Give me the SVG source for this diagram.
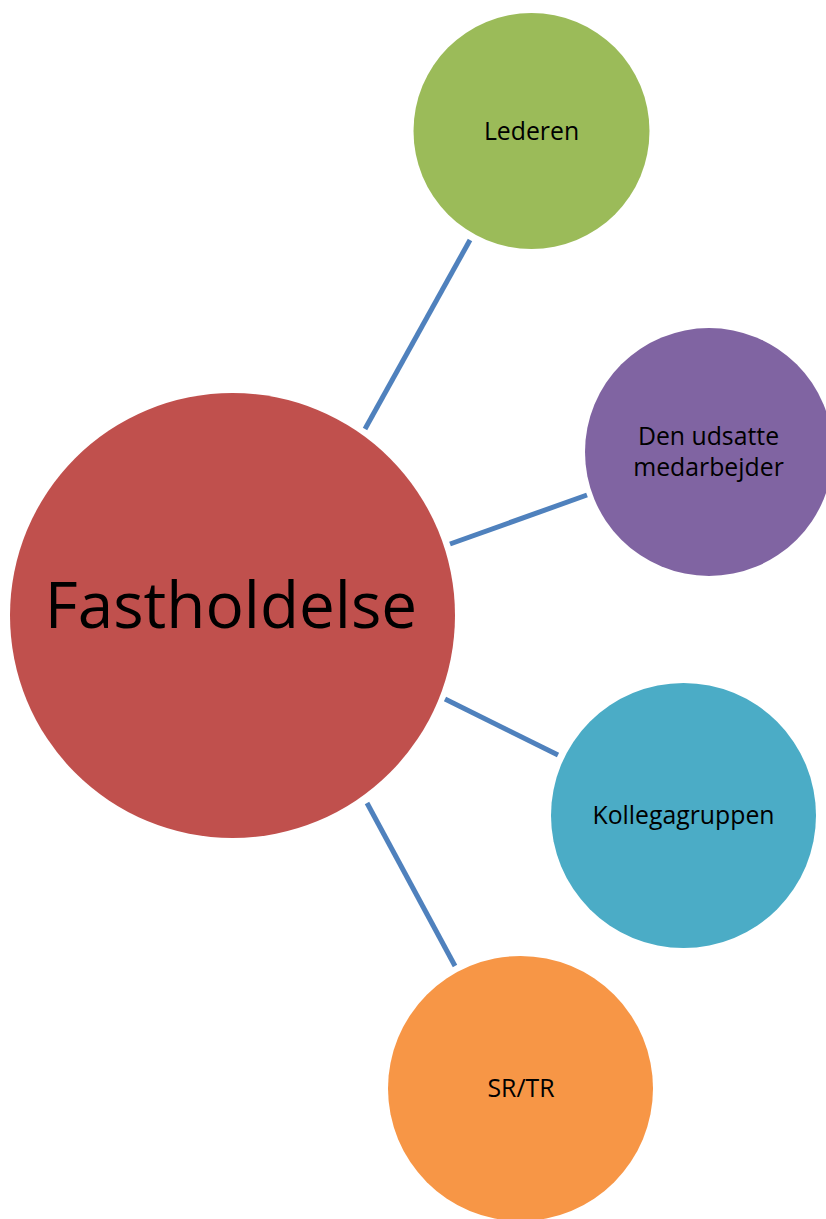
<svg xmlns="http://www.w3.org/2000/svg" width="826" height="1219" viewBox="0 0 826 1219">
<style>
.lbl{font-family:"Open Sans","Noto Sans","Liberation Sans",sans-serif;font-size:24.8px;fill:#000;text-anchor:middle}
.big{font-family:"Open Sans","Noto Sans","Liberation Sans",sans-serif;font-size:63.8px;fill:#000;text-anchor:middle}
.conn{stroke:#4F81BD;stroke-width:5;fill:none}
</style>
<rect width="826" height="1219" fill="#fff"/>
<g id="connectors">
<line class="conn" x1="365" y1="429" x2="470" y2="240"/>
<line class="conn" x1="450" y1="544" x2="587" y2="495"/>
<line class="conn" x1="445" y1="699" x2="558" y2="755"/>
<line class="conn" x1="367" y1="803" x2="455" y2="966"/>
</g>
<g id="node-fastholdelse">
<circle cx="232.5" cy="615.5" r="222.5" fill="#C0504D"/>
<text class="big" x="231" y="628">Fastholdelse</text>
</g>
<g id="node-lederen">
<circle cx="531.5" cy="131" r="118" fill="#9BBB59"/>
<text class="lbl" x="531.5" y="140">Lederen</text>
</g>
<g id="node-medarbejder">
<circle cx="709" cy="452" r="124" fill="#8064A2"/>
<text class="lbl" x="708.5" y="445">Den udsatte</text>
<text class="lbl" x="708.5" y="476">medarbejder</text>
</g>
<g id="node-kollegagruppen">
<circle cx="683.5" cy="815.5" r="132.5" fill="#4BACC6"/>
<text class="lbl" x="683.5" y="824">Kollegagruppen</text>
</g>
<g id="node-srtr">
<circle cx="520.5" cy="1088.5" r="132.5" fill="#F79646"/>
<text class="lbl" x="521" y="1097">SR/TR</text>
</g>
</svg>
